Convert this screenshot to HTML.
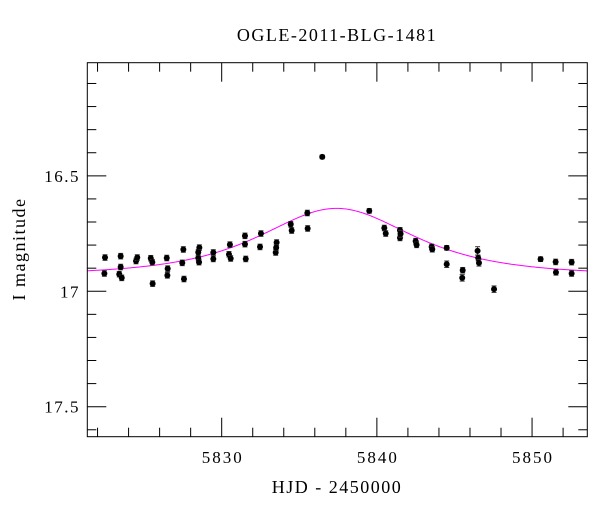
<!DOCTYPE html>
<html><head><meta charset="utf-8"><style>
body{margin:0;background:#fff}
svg text{font-family:"Liberation Serif","DejaVu Serif",serif;fill:#000}
</style></head><body>
<svg id="chart" width="600" height="512" viewBox="0 0 600 512" xmlns="http://www.w3.org/2000/svg">
<text x="337" y="41" font-size="18" letter-spacing="1.5" text-anchor="middle">OGLE-2011-BLG-1481</text>
<text transform="translate(25,249) rotate(-90)" font-size="18" letter-spacing="1.5" text-anchor="middle">I magnitude</text>
<text x="337" y="493" font-size="18" letter-spacing="1.5" text-anchor="middle">HJD - 2450000</text>
<g id="axes"></g>
<g id="model"></g>
<g id="points"></g>
<rect x="87.3" y="62.7" width="500" height="374" fill="none" stroke="#000" stroke-width="1"/>
</svg>
<script>
const days=[5822.48,5822.44,5823.49,5823.49,5823.40,5823.56,5824.48,5824.56,5825.43,5825.53,5825.55,5826.46,5826.52,5826.50,5827.53,5827.46,5827.57,5828.49,5828.54,5828.56,5828.49,5829.46,5829.46,5830.53,5830.47,5830.58,5831.50,5831.50,5831.55,5832.53,5832.47,5833.48,5833.54,5833.51,5834.45,5834.51,5835.52,5835.54,5836.48,5839.51,5840.48,5840.57,5841.49,5841.49,5841.53,5842.50,5842.56,5843.53,5843.57,5844.50,5844.50,5845.53,5845.50,5846.49,5846.53,5846.58,5847.55,5850.55,5851.52,5851.54,5852.55,5852.55];
const mags=[16.854,16.923,16.848,16.895,16.926,16.942,16.869,16.854,16.857,16.874,16.967,16.856,16.902,16.931,16.819,16.877,16.947,16.856,16.874,16.811,16.831,16.832,16.860,16.798,16.840,16.858,16.760,16.796,16.860,16.750,16.808,16.832,16.789,16.811,16.710,16.737,16.661,16.728,16.418,16.652,16.726,16.750,16.736,16.769,16.751,16.783,16.799,16.808,16.818,16.812,16.883,16.909,16.942,16.825,16.856,16.877,16.991,16.861,16.873,16.918,16.874,16.923];
const errs=[0.012,0.012,0.012,0.012,0.012,0.012,0.012,0.012,0.012,0.012,0.012,0.012,0.012,0.012,0.012,0.012,0.012,0.012,0.012,0.012,0.012,0.012,0.012,0.012,0.012,0.012,0.012,0.012,0.012,0.012,0.012,0.012,0.012,0.012,0.012,0.012,0.012,0.012,0.008,0.01,0.012,0.012,0.012,0.012,0.015,0.012,0.012,0.012,0.012,0.01,0.014,0.012,0.014,0.018,0.012,0.014,0.014,0.01,0.012,0.012,0.012,0.012];
const modelT0=[5837.4], modelTE=[5.76], modelU0=[1.055], modelBase=[16.93];
const xTicks=[5830,5840,5850];
const yTicks=[16.5,17,17.5];
const xMin=5821.34,xMax=5853.56,yMin=16.01,yMax=17.63;
const L=87.3,R=587.3,T=62.7,B=436.7;
const NS="http://www.w3.org/2000/svg";
function X(d){return L+(d-xMin)/(xMax-xMin)*(R-L);}
function Y(m){return T+(m-yMin)/(yMax-yMin)*(B-T);}
function mk(tag,attrs,parent){const e=document.createElementNS(NS,tag);for(const k in attrs)e.setAttribute(k,attrs[k]);parent.appendChild(e);return e;}
const ax=document.getElementById('axes');
for(let d=5822;d<=5852;d+=2){
  const major=xTicks.includes(d);const len=major?19:9;const x=X(d);
  let t=mk('line',{x1:x,x2:x,y1:B,y2:B-len,stroke:'#000'},ax);
  
  
  t=mk('line',{x1:x,x2:x,y1:T,y2:T+len,stroke:'#000'},ax);
  
  
}
xTicks.forEach(d=>{const t=mk('text',{x:X(d)+1,y:463,'font-size':17,'letter-spacing':2,'text-anchor':'middle'},ax);t.textContent=d;
  
  });
for(let i=1;i<=16;i++){
  const m=16+i*0.1;const major=yTicks.some(v=>Math.abs(v-m)<1e-6);const len=major?19:9;const y=Y(m);
  let t=mk('line',{x1:L,x2:L+len,y1:y,y2:y,stroke:'#000'},ax);
  
  
  t=mk('line',{x1:R,x2:R-len,y1:y,y2:y,stroke:'#000'},ax);
  
  
}
yTicks.forEach(m=>{const t=mk('text',{x:80,y:Y(m)+6,'font-size':17,'letter-spacing':1.5,'text-anchor':'end'},ax);t.textContent=m;
  
  });
let pts=[];
for(let px=L;px<=R;px+=1){
  const d=xMin+(px-L)/(R-L)*(xMax-xMin);
  const tau=(d-modelT0[0])/modelTE[0];const u=Math.sqrt(tau*tau+modelU0[0]*modelU0[0]);
  const A=(u*u+2)/(u*Math.sqrt(u*u+4));
  pts.push(px.toFixed(1)+','+Y(modelBase[0]-2.5*Math.log10(A)).toFixed(2));
}
const ml=mk('polyline',{points:pts.join(' '),fill:'none',stroke:'#ff00ff','stroke-width':1},document.getElementById('model'));


const pg=document.getElementById('points');
days.forEach((d,i)=>{
  const x=X(d),y=Y(mags[i]),y1=Y(mags[i]-errs[i]),y2=Y(mags[i]+errs[i]);
  const g=mk('g',{},pg);
  
  
  mk('line',{x1:x,x2:x,y1:y1,y2:y2,stroke:'#333','stroke-width':1},g);
  mk('line',{x1:x-2.5,x2:x+2.5,y1:y1,y2:y1,stroke:'#333','stroke-width':1},g);
  mk('line',{x1:x-2.5,x2:x+2.5,y1:y2,y2:y2,stroke:'#333','stroke-width':1},g);
  mk('circle',{cx:x,cy:y,r:3,fill:'#000'},g);
});
</script>
</body></html>
